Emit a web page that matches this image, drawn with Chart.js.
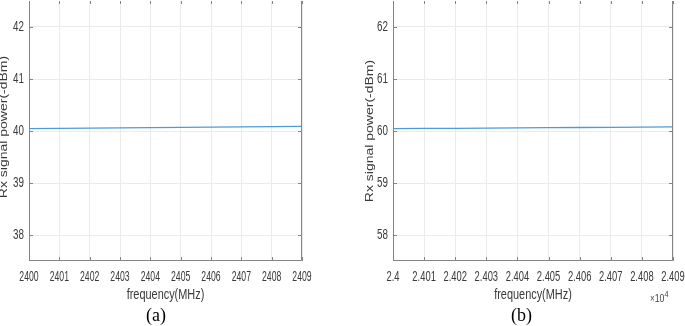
<!DOCTYPE html>
<html>
<head>
<meta charset="utf-8">
<script src="https://cdn.jsdelivr.net/npm/chart.js@4.4.1/dist/chart.umd.min.js"></script>
<style>
  body { margin: 0; background: #fff; }
  #wrap { position: relative; width: 685px; height: 326px; overflow: hidden; }
  canvas { position: absolute; top: 0; }
  .cap { position: absolute; font-family: "Liberation Serif", "Times New Roman", serif; font-size: 18px; color: #000; }
  .exp { position: absolute; font-family: "Liberation Sans", Arial, sans-serif; font-size: 11px; color: #444; transform: scaleX(0.8); transform-origin: left top; }
</style>
</head>
<body>
<div id="wrap">
  <canvas id="chartA" width="342" height="326" style="left:0px"></canvas>
  <canvas id="chartB" width="343" height="326" style="left:342px"></canvas>
  <div class="cap" style="left:146px; top:305px;">(a)</div>
  <div class="cap" style="left:511px; top:305px;">(b)</div>
  <div class="exp" style="left:650px; top:289px;"><span style="font-size:10px">&times;</span>10<sup style="font-size:9px">4</sup></div>
</div>
<script>
// frequency in MHz
const freqA = [2400, 2401, 2402, 2403, 2404, 2405, 2406, 2407, 2408, 2409];
const powerA = [40.045, 40.05, 40.055, 40.06, 40.065, 40.07, 40.075, 40.08, 40.085, 40.09];

const freqB = [24000, 24010, 24020, 24030, 24040, 24050, 24060, 24070, 24080, 24090];
const powerB = [60.045, 60.05, 60.052, 60.056, 60.06, 60.063, 60.067, 60.07, 60.074, 60.078];

const yTicksA = [38, 39, 40, 41, 42];
const yTicksB = [58, 59, 60, 61, 62];

const xTitle = 'frequency(MHz)';
const yTitle = 'Rx signal power(-dBm)';

const SANS = '"Liberation Sans", Arial, sans-serif';

// the figure is squashed sideways, so text is drawn narrow
function narrowText(ctx, text, x, y, sx, align) {
  ctx.save();
  ctx.translate(x, y);
  ctx.scale(sx, 1);
  ctx.textAlign = align;
  ctx.fillText(text, 0, 0);
  ctx.restore();
}

// matlab style box, inward ticks and the labels
function boxPlugin(o) {
  return {
    id: 'box',
    afterDraw(chart) {
      const ctx = chart.ctx;
      const a = chart.chartArea;
      const xs = chart.scales.x, ys = chart.scales.y;
      ctx.save();
      ctx.strokeStyle = '#858585';
      ctx.lineWidth = 1;
      ctx.beginPath();
      // top edge is cut off in the figure
      ctx.moveTo(a.left + 0.5, a.top);
      ctx.lineTo(a.left + 0.5, a.bottom - 0.5);
      ctx.lineTo(a.right - 0.5, a.bottom - 0.5);
      ctx.lineTo(a.right - 0.5, a.top);
      xs.ticks.forEach((t, i) => {
        const px = Math.round(xs.getPixelForTick(i)) + 0.5;
        ctx.moveTo(px, a.bottom); ctx.lineTo(px, a.bottom - 4);
        ctx.moveTo(px, a.top); ctx.lineTo(px, a.top + 3);
      });
      ys.ticks.forEach((t, i) => {
        const py = Math.round(ys.getPixelForTick(i)) + 0.5;
        ctx.moveTo(a.left, py); ctx.lineTo(a.left + 4, py);
        ctx.moveTo(a.right, py); ctx.lineTo(a.right - 4, py);
      });
      ctx.stroke();

      ctx.fillStyle = '#3a3a3a';
      ctx.textBaseline = 'middle';
      ctx.font = '14px ' + SANS;
      xs.ticks.forEach((t, i) => {
        narrowText(ctx, o.xFmt(t.value), xs.getPixelForTick(i), a.bottom + 16, o.xSquash, 'center');
      });
      ys.ticks.forEach((t, i) => {
        narrowText(ctx, String(t.value), a.left - 5, ys.getPixelForTick(i), 0.7, 'right');
      });
      narrowText(ctx, xTitle, (a.left + a.right) / 2, a.bottom + 34, 0.78, 'center');

      ctx.save();
      ctx.translate(o.yTitleX, o.yTitleY);
      ctx.rotate(-Math.PI / 2);
      ctx.scale(1, 0.75);
      ctx.textAlign = 'center';
      ctx.fillText(yTitle, 0, 0);
      ctx.restore();
      ctx.restore();
    }
  };
}

function makeConfig(freq, power, yTicks, xMin, xMax, xStep, yAxisW, padRight, o) {
  return {
    type: 'line',
    data: {
      datasets: [{
        data: freq.map((f, i) => ({ x: f, y: power[i] })),
        borderColor: '#4d9cd8',
        borderWidth: 1.3,
        pointRadius: 0,
        fill: false,
        tension: 0
      }]
    },
    options: {
      responsive: false,
      animation: false,
      layout: { padding: { top: 1, right: padRight, left: 0, bottom: 0 } },
      plugins: { legend: { display: false }, tooltip: { enabled: false } },
      scales: {
        x: {
          type: 'linear',
          min: xMin,
          max: xMax,
          ticks: { stepSize: xStep, display: false },
          grid: { color: '#ebebeb', drawTicks: false },
          border: { display: false },
          afterFit(s) { s.height = 65; s.paddingLeft = 0; s.paddingRight = 0; }
        },
        y: {
          type: 'linear',
          min: yTicks[0] - 0.5,
          max: yTicks[yTicks.length - 1] + 0.5,
          afterBuildTicks(s) { s.ticks = yTicks.map(v => ({ value: v })); },
          ticks: { display: false },
          grid: { color: '#ebebeb', drawTicks: false },
          border: { display: false },
          afterFit(s) { s.width = yAxisW; s.paddingTop = 0; s.paddingBottom = 0; }
        }
      }
    },
    plugins: [boxPlugin(o)]
  };
}

const chartA = new Chart(document.getElementById('chartA'),
  makeConfig(freqA, powerA, yTicksA, 2400, 2409, 1, 29, 40,
    { xFmt: v => String(v), xSquash: 0.62, yTitleX: 4, yTitleY: 127 }));

const chartB = new Chart(document.getElementById('chartB'),
  makeConfig(freqB, powerB, yTicksB, 24000, 24090, 10, 51, 12,
    { xFmt: v => String(parseFloat((v / 1e4).toFixed(3))), xSquash: 0.67, yTitleX: 28, yTitleY: 131 }));
</script>
</body>
</html>
